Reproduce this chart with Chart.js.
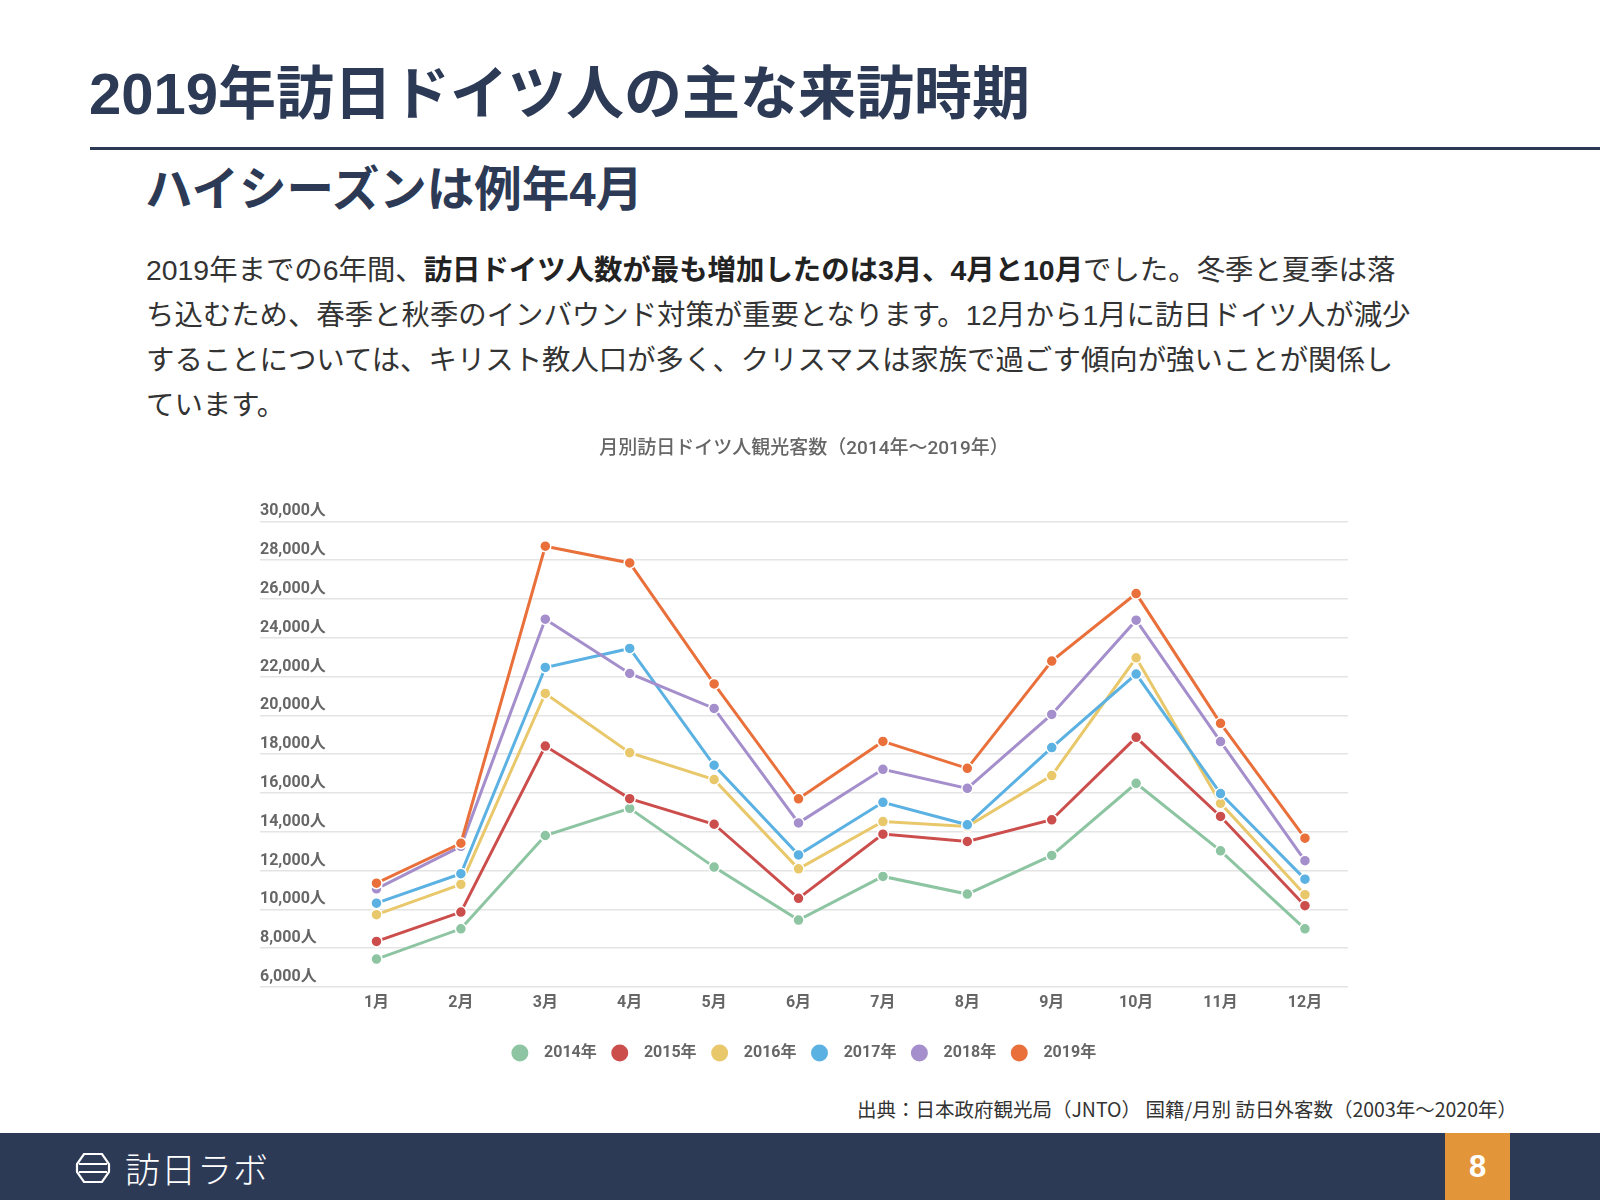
<!DOCTYPE html>
<html lang="ja">
<head>
<meta charset="utf-8">
<script src="https://cdn.jsdelivr.net/npm/chart.js@4.4.1/dist/chart.umd.min.js"></script>
<style>
  html, body { margin: 0; padding: 0; background: #fff; }
  body { width: 1600px; height: 1200px; position: relative; overflow: hidden;
         font-family: "Liberation Sans", "Noto Sans CJK JP", sans-serif; color: #2c3a56; }
  .title { position: absolute; left: 89px; top: 57px; font-size: 58px; font-weight: bold; line-height: 74px; white-space: nowrap; }
  .rule { position: absolute; left: 90px; top: 147px; width: 1510px; height: 3px; background: #2c3a56; }
  .subtitle { position: absolute; left: 145px; top: 159px; font-size: 47.5px; font-weight: bold; line-height: 62px; white-space: nowrap; }
  .body { position: absolute; left: 146px; top: 248px; font-size: 28.4px; line-height: 45px; color: #333; white-space: nowrap; }
  .body b { color: #222; }
  #chartBox { position: absolute; left: 240px; top: 420px; }
  .source { position: absolute; right: 83px; top: 1096px; font-size: 19.5px; line-height: 26px; color: #333; white-space: nowrap;
            font-family: "Noto Sans CJK JP", sans-serif; }
  .footer { position: absolute; left: 0; top: 1133px; width: 1600px; height: 67px; background: #2d3a56; }
  .logo { position: absolute; left: 75px; top: 1150px; height: 36px; display: flex; align-items: center; color: #fff; }
  .logo span { font-family: "Noto Sans CJK JP", sans-serif; font-weight: 300; font-size: 35px; line-height: 36px; margin-left: 14px; letter-spacing: 1px; }
  .page { position: absolute; left: 1445px; top: 1133px; width: 65px; height: 67px; background: #e3953a; color: #fff;
          font-family: "Liberation Sans", sans-serif; font-weight: bold; font-size: 31px; line-height: 67px; text-align: center; }
</style>
</head>
<body>
<div class="title">2019年訪日ドイツ人の主な来訪時期</div>
<div class="rule"></div>
<div class="subtitle">ハイシーズンは例年4月</div>
<div class="body">
2019年までの6年間、<b>訪日ドイツ人数が最も増加したのは3月、4月と10月</b>でした。冬季と夏季は落<br>
ち込むため、春季と秋季のインバウンド対策が重要となります。12月から1月に訪日ドイツ人が減少<br>
することについては、キリスト教人口が多く、クリスマスは家族で過ごす傾向が強いことが関係し<br>
ています。
</div>

<div id="chartBox"><canvas id="chart" width="1140" height="660"></canvas></div>

<div class="source">出典：日本政府観光局（JNTO） 国籍/月別 訪日外客数（2003年〜2020年）</div>
<div class="footer"></div>
<div class="logo">
  <svg width="36" height="32" viewBox="0 0 36 32" fill="none" stroke="#fff" stroke-width="2.2">
    <path d="M9 2 H27 L34 12 V20 L27 30 H9 L2 20 V12 Z"/>
    <path d="M4 12 H32 M4 20 H32"/>
  </svg>
  <span>訪日ラボ</span>
</div>
<div class="page">8</div>

<script>
const months = ['1月', '2月', '3月', '4月', '5月', '6月', '7月', '8月', '9月', '10月', '11月', '12月'];
const years = ['2014年', '2015年', '2016年', '2017年', '2018年', '2019年'];

const visitors2014 = [7440, 9000, 13810, 15210, 12180, 9450, 11700, 10790, 12780, 16500, 13020, 9000];
const visitors2015 = [8350, 9860, 18420, 15710, 14390, 10570, 13880, 13500, 14620, 18870, 14790, 10190];
const visitors2016 = [9730, 11290, 21130, 18080, 16690, 12090, 14530, 14270, 16900, 22970, 15470, 10760];
const visitors2017 = [10320, 11840, 22470, 23450, 17430, 12810, 15520, 14360, 18340, 22130, 15970, 11560];
const visitors2018 = [11060, 13250, 24960, 22160, 20360, 14460, 17220, 16240, 20050, 24910, 18650, 12510];
const visitors2019 = [11350, 13410, 28720, 27860, 21620, 15700, 18660, 17270, 22800, 26280, 19590, 13670];

const yTicks = [6000, 8000, 10000, 12000, 14000, 16000, 18000, 20000, 22000, 24000, 26000, 28000, 30000];

const series = [visitors2014, visitors2015, visitors2016, visitors2017, visitors2018, visitors2019];
const colors = ['#8dc5a2', '#cc4e4c', '#e9c86b', '#5bb1e2', '#a48ecb', '#e9703b'];

const tickFont = { family: 'Roboto, "Noto Sans CJK JP", sans-serif', size: 16, weight: 'bold' };

const datasets = series.map((values, i) => ({
    label: years[i],
    data: values.map((v, m) => ({ x: m, y: v })),
    borderColor: colors[i],
    backgroundColor: colors[i],
    pointBackgroundColor: colors[i],
    pointBorderColor: '#fff',
    pointBorderWidth: 1.5,
    pointRadius: 5.5,
    borderWidth: 3,
    tension: 0,
    order: years.length - i, // later years drawn on top
}));

new Chart(document.getElementById('chart'), {
    type: 'line',
    data: { datasets },
    options: {
        responsive: false,
        animation: false,
        layout: { padding: { left: 20, right: 32, top: 0, bottom: 9 } },
        plugins: {
            title: {
                display: true,
                text: '月別訪日ドイツ人観光客数（2014年〜2019年）',
                color: '#666',
                font: { family: 'Roboto, "Noto Sans CJK JP", sans-serif', size: 19, weight: '500' },
                padding: { top: 18, bottom: 60.6 },
            },
            legend: {
                position: 'bottom',
                labels: {
                    usePointStyle: true,
                    pointStyle: 'circle',
                    boxWidth: 16,
                    boxHeight: 12,
                    padding: 15,
                    color: '#666',
                    font: tickFont,
                    sort: (a, b) => a.datasetIndex - b.datasetIndex,
                    generateLabels: (chart) =>
                        Chart.defaults.plugins.legend.labels.generateLabels(chart)
                            .map(item => ({ ...item, text: '\u2002' + item.text, lineWidth: 0 })),
                },
            },
            tooltip: { enabled: false },
        },
        scales: {
            x: {
                type: 'linear',
                min: -1.38,
                max: 11.51,
                grid: { display: false },
                border: { display: false },
                afterBuildTicks: (axis) => { axis.ticks = months.map((_, i) => ({ value: i })); },
                afterFit: (axis) => { axis.height = 43; },
                ticks: {
                    color: '#666',
                    font: tickFont,
                    padding: -2,
                    maxRotation: 0,
                    autoSkip: false,
                    callback: (v) => months[v],
                },
            },
            y: {
                min: 6000,
                max: 30000,
                afterBuildTicks: (axis) => { axis.ticks = yTicks.map(v => ({ value: v })); },
                afterFit: (axis) => { axis.width = 0; },
                grid: { color: '#e4e4e4', lineWidth: 1.5, drawTicks: false },
                border: { display: false },
                ticks: {
                    mirror: true,
                    padding: 0,
                    labelOffset: -10,
                    color: '#666',
                    font: tickFont,
                    callback: (v) => v.toLocaleString('en-US') + '人',
                },
            },
        },
    },
});
</script>
</body>
</html>
